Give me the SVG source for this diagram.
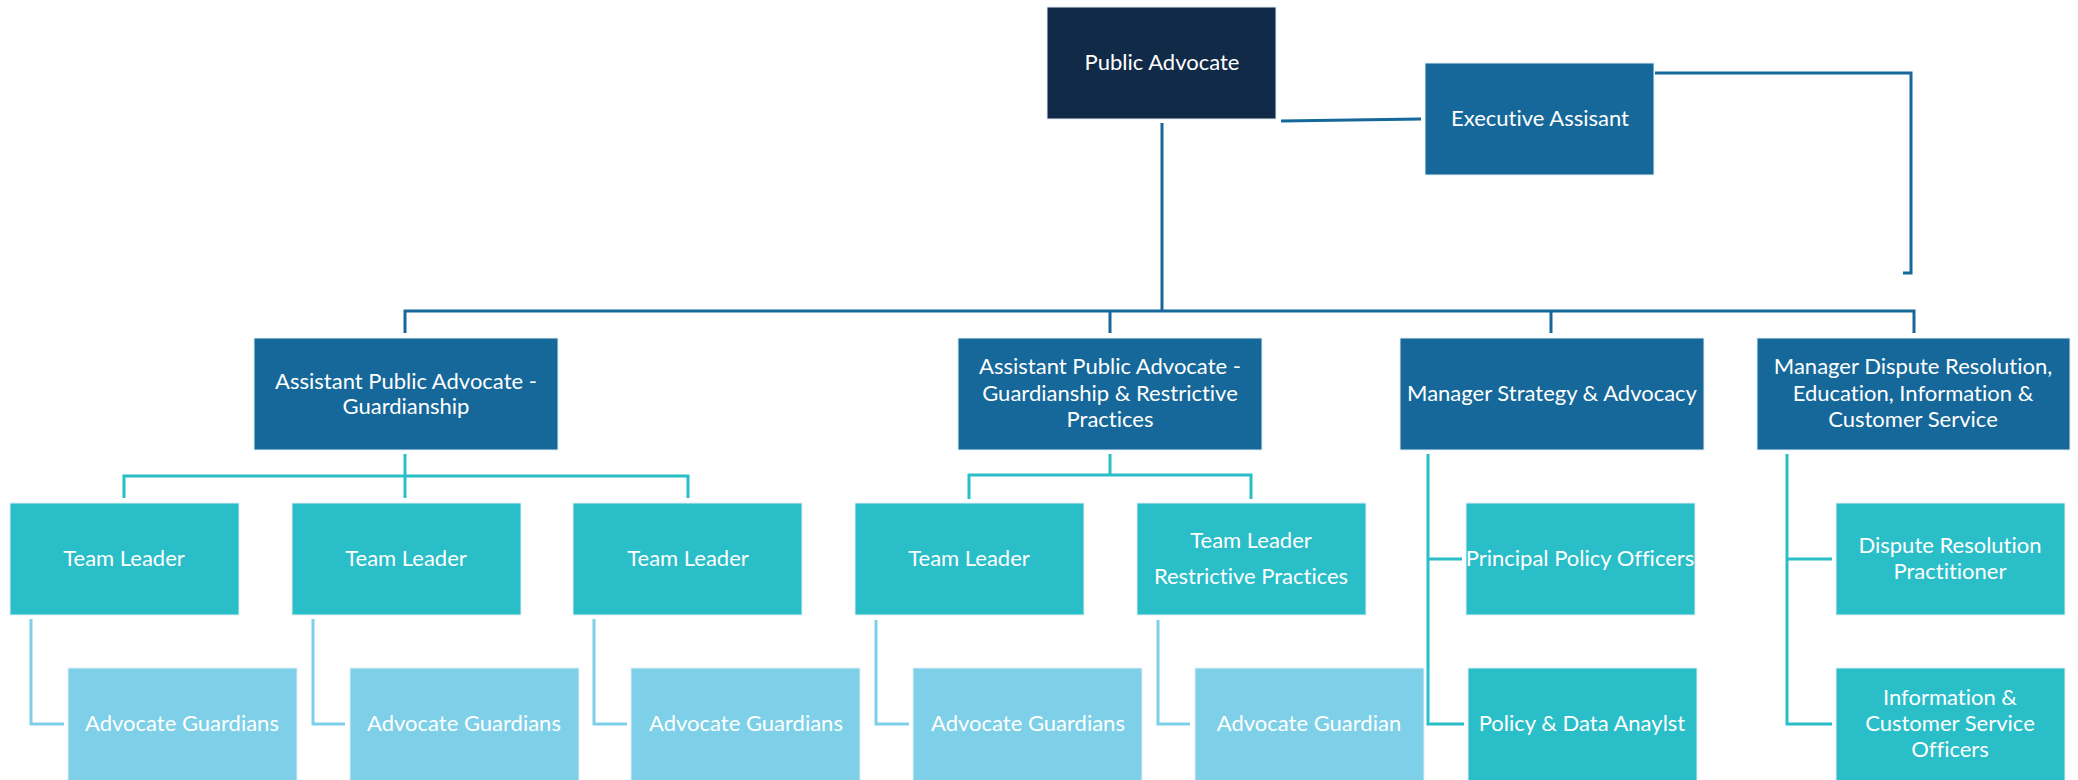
<svg xmlns="http://www.w3.org/2000/svg" width="2078" height="780" viewBox="0 0 2078 780">
<style>
.box{stroke:#e3eef5;stroke-width:1}
.navy{fill:#102a47}
.blue{fill:#156899}
.teal{fill:#29bec8}
.light{fill:#7dd0e8}
.t{font-family:Lato,"Open Sans","Liberation Sans",sans-serif;font-size:22px;fill:#ffffff;text-anchor:middle;dominant-baseline:central;font-variant-ligatures:none}
.c1{fill:none;stroke:#156899;stroke-width:3}
.c2{fill:none;stroke:#29bec8;stroke-width:3}
.c3{fill:none;stroke:#7dd0e8;stroke-width:3}
</style>
<rect width="2078" height="780" fill="#ffffff"/>
<g id="connectors">
<path class="c1" d="M1281,121 L1421,119"/>
<path class="c1" d="M1655,73 H1911 V273 H1903"/>
<path class="c1" d="M1162,123 V311"/>
<path class="c1" d="M405,333 V311 H1914 V333"/>
<path class="c1" d="M1110,311 V333"/>
<path class="c1" d="M1551,311 V333"/>
<path class="c2" d="M405,454 V498"/>
<path class="c2" d="M124,498 V476 H688 V498"/>
<path class="c2" d="M1110,454 V475"/>
<path class="c2" d="M969,499 V475 H1251 V499"/>
<path class="c3" d="M31,619 V724 H64"/>
<path class="c3" d="M313,619 V724 H345"/>
<path class="c3" d="M594,619 V724 H627"/>
<path class="c3" d="M876,620 V724 H909"/>
<path class="c3" d="M1158,620 V724 H1190"/>
<path class="c2" d="M1428,454 V724 H1464"/>
<path class="c2" d="M1428,559 H1462"/>
<path class="c2" d="M1787,454 V724 H1832"/>
<path class="c2" d="M1787,559 H1832"/>
</g>
<g id="public-advocate"><rect class="box navy" x="1047" y="7" width="229" height="112"/><text class="t" x="1162" y="61">Public Advocate</text></g>
<g id="executive-assistant"><rect class="box blue" x="1425" y="63" width="229" height="112"/><text class="t" x="1540" y="117">Executive Assisant</text></g>
<g id="apa-guardianship"><rect class="box blue" x="254" y="338" width="304" height="112"/><text class="t" x="406" y="380">Assistant Public Advocate -</text><text class="t" x="406" y="405">Guardianship</text></g>
<g id="apa-grp"><rect class="box blue" x="958" y="338" width="304" height="112"/><text class="t" x="1110" y="365">Assistant Public Advocate -</text><text class="t" x="1110" y="392">Guardianship &amp; Restrictive</text><text class="t" x="1110" y="418">Practices</text></g>
<g id="manager-strategy"><rect class="box blue" x="1400" y="338" width="304" height="112"/><text class="t" x="1552" y="392">Manager Strategy &amp; Advocacy</text></g>
<g id="manager-dispute"><rect class="box blue" x="1757" y="338" width="313" height="112"/><text class="t" x="1913" y="365">Manager Dispute Resolution,</text><text class="t" x="1913" y="392">Education, Information &amp;</text><text class="t" x="1913" y="418">Customer Service</text></g>
<g id="team-leader-1"><rect class="box teal" x="10" y="503" width="229" height="112"/><text class="t" x="124" y="557">Team Leader</text></g>
<g id="team-leader-2"><rect class="box teal" x="292" y="503" width="229" height="112"/><text class="t" x="406" y="557">Team Leader</text></g>
<g id="team-leader-3"><rect class="box teal" x="573" y="503" width="229" height="112"/><text class="t" x="688" y="557">Team Leader</text></g>
<g id="team-leader-4"><rect class="box teal" x="855" y="503" width="229" height="112"/><text class="t" x="969" y="557">Team Leader</text></g>
<g id="team-leader-rp"><rect class="box teal" x="1137" y="503" width="229" height="112"/><text class="t" x="1251" y="539">Team Leader</text><text class="t" x="1251" y="575">Restrictive Practices</text></g>
<g id="advocate-guardians-1"><rect class="box light" x="68" y="668" width="229" height="114"/><text class="t" x="182" y="722">Advocate Guardians</text></g>
<g id="advocate-guardians-2"><rect class="box light" x="350" y="668" width="229" height="114"/><text class="t" x="464" y="722">Advocate Guardians</text></g>
<g id="advocate-guardians-3"><rect class="box light" x="631" y="668" width="229" height="114"/><text class="t" x="746" y="722">Advocate Guardians</text></g>
<g id="advocate-guardians-4"><rect class="box light" x="913" y="668" width="229" height="114"/><text class="t" x="1028" y="722">Advocate Guardians</text></g>
<g id="advocate-guardian-5"><rect class="box light" x="1195" y="668" width="229" height="114"/><text class="t" x="1309" y="722">Advocate Guardian</text></g>
<g id="principal-policy"><rect class="box teal" x="1466" y="503" width="229" height="112"/><text class="t" x="1580" y="557">Principal Policy Officers</text></g>
<g id="policy-data"><rect class="box teal" x="1468" y="668" width="229" height="114"/><text class="t" x="1582" y="722">Policy &amp; Data Anaylst</text></g>
<g id="dispute-practitioner"><rect class="box teal" x="1836" y="503" width="229" height="112"/><text class="t" x="1950" y="544">Dispute Resolution</text><text class="t" x="1950" y="570">Practitioner</text></g>
<g id="info-officers"><rect class="box teal" x="1836" y="668" width="229" height="114"/><text class="t" x="1950" y="696">Information &amp;</text><text class="t" x="1950" y="722">Customer Service</text><text class="t" x="1950" y="748">Officers</text></g>
</svg>
